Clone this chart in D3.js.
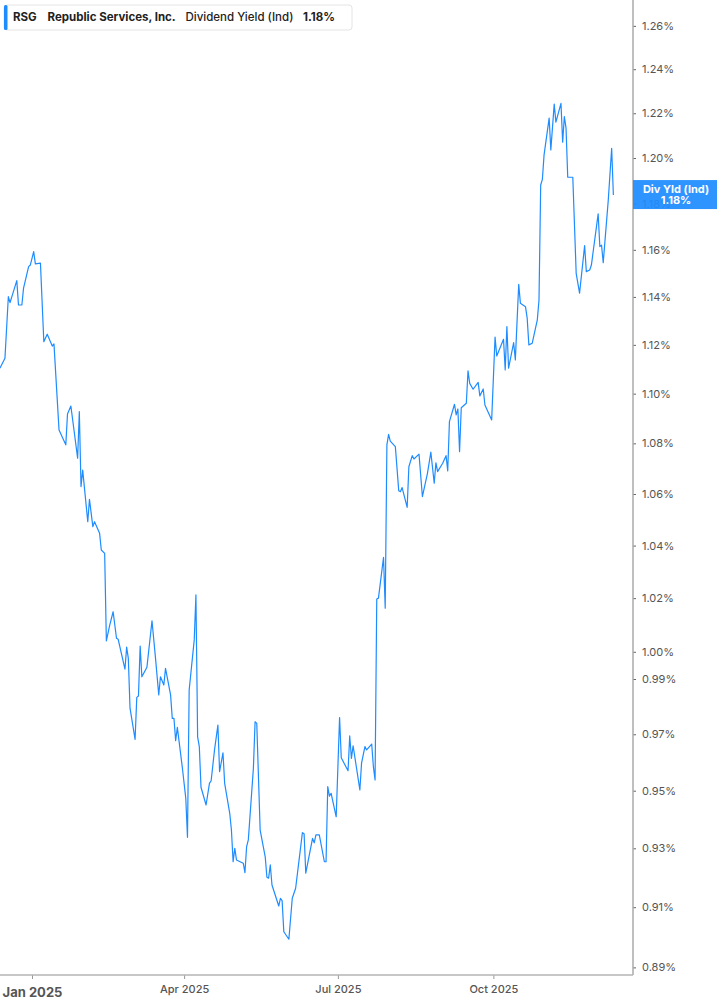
<!DOCTYPE html>
<html>
<head>
<meta charset="utf-8">
<script src="https://cdn.jsdelivr.net/npm/d3@7"></script>
<style>
  body { margin: 0; background: #fff; }
  svg text { font-family: Inter, "Noto Sans", sans-serif; }
</style>
</head>
<body>
<div id="chart"></div>
<script>
// RSG dividend yield (%)
var dates = [
  "2024-12-13","2024-12-16","2024-12-18","2024-12-19","2024-12-23","2024-12-24","2024-12-26","2024-12-27","2024-12-30","2024-12-31",
  "2025-01-02","2025-01-03","2025-01-06","2025-01-08","2025-01-10","2025-01-13","2025-01-14","2025-01-17","2025-01-21","2025-01-22","2025-01-24","2025-01-28","2025-01-29","2025-01-30","2025-01-31",
  "2025-02-03","2025-02-04","2025-02-06","2025-02-07","2025-02-10","2025-02-11","2025-02-13","2025-02-14","2025-02-16","2025-02-18","2025-02-20","2025-02-21","2025-02-25","2025-02-26","2025-02-27","2025-02-28",
  "2025-03-03","2025-03-04","2025-03-05","2025-03-06","2025-03-07","2025-03-10","2025-03-13","2025-03-15","2025-03-17","2025-03-18","2025-03-20","2025-03-21","2025-03-24","2025-03-25","2025-03-26","2025-03-27","2025-03-28","2025-03-31",
  "2025-04-02","2025-04-03","2025-04-04","2025-04-07","2025-04-08","2025-04-09","2025-04-10","2025-04-11","2025-04-14","2025-04-16","2025-04-17","2025-04-19","2025-04-21","2025-04-22","2025-04-24","2025-04-25","2025-04-28","2025-04-29","2025-04-30",
  "2025-05-01","2025-05-02","2025-05-06","2025-05-07","2025-05-08","2025-05-09","2025-05-12","2025-05-13","2025-05-14","2025-05-16","2025-05-19","2025-05-20","2025-05-21","2025-05-22","2025-05-23","2025-05-27","2025-05-28","2025-05-29","2025-05-30",
  "2025-06-02","2025-06-04","2025-06-06","2025-06-10","2025-06-11","2025-06-12","2025-06-16","2025-06-17","2025-06-18","2025-06-20","2025-06-23","2025-06-24","2025-06-25","2025-06-26","2025-06-27","2025-06-30",
  "2025-07-02","2025-07-03","2025-07-07","2025-07-08","2025-07-09","2025-07-10","2025-07-14","2025-07-15","2025-07-17","2025-07-18","2025-07-21","2025-07-22","2025-07-23","2025-07-24","2025-07-25","2025-07-28","2025-07-29","2025-07-30","2025-07-31",
  "2025-08-01","2025-08-04","2025-08-06","2025-08-07","2025-08-08","2025-08-11","2025-08-12","2025-08-14","2025-08-15","2025-08-18","2025-08-20","2025-08-23","2025-08-25","2025-08-27","2025-08-28","2025-08-29",
  "2025-09-01","2025-09-03","2025-09-04","2025-09-05","2025-09-08","2025-09-09","2025-09-10","2025-09-11","2025-09-12","2025-09-15","2025-09-16","2025-09-17","2025-09-19","2025-09-22","2025-09-23","2025-09-25","2025-09-26","2025-09-30",
  "2025-10-02","2025-10-03","2025-10-07","2025-10-08","2025-10-09","2025-10-10","2025-10-13","2025-10-14","2025-10-16","2025-10-17","2025-10-20","2025-10-21","2025-10-22","2025-10-24","2025-10-27","2025-10-28","2025-10-29","2025-10-30","2025-10-31",
  "2025-11-03","2025-11-04","2025-11-06","2025-11-07","2025-11-10","2025-11-11","2025-11-12","2025-11-13","2025-11-14","2025-11-17","2025-11-19","2025-11-21","2025-11-24","2025-11-25","2025-11-27","2025-11-28",
  "2025-12-02","2025-12-03","2025-12-04","2025-12-05","2025-12-08","2025-12-10","2025-12-11"
];

var yields = [
  1.1104, 1.1145, 1.1401, 1.1376, 1.1469, 1.1366, 1.1366, 1.1437, 1.1528, 1.1535,
  1.1592, 1.1540, 1.1543, 1.1213, 1.1244, 1.1195, 1.1204, 1.0853, 1.0794, 1.0918, 1.0950, 1.0741, 1.0927, 1.0629, 1.0694,
  1.0492, 1.0579, 1.0473, 1.0492, 1.0447, 1.0383, 1.0370, 1.0040, 1.0099, 1.0149, 1.0050, 1.0046, 0.9936, 1.0017, 0.9976, 0.9794,
  0.9682, 0.9833, 0.9838, 1.0021, 0.9908, 0.9943, 1.0115, 0.9982, 0.9842, 0.9908, 0.9878, 0.9939, 0.9842, 0.9757, 0.9757, 0.9677, 0.9725, 0.9579,
  0.9473, 0.9338, 0.9860, 1.0044, 1.0212, 0.9691, 0.9656, 0.9512, 0.9450, 0.9526, 0.9535, 0.9644, 0.9733, 0.9567, 0.9634, 0.9526, 0.9421, 0.9363, 0.9254,
  0.9300, 0.9260, 0.9249, 0.9217, 0.9306, 0.9329, 0.9579, 0.9745, 0.9739, 0.9363, 0.9271, 0.9201, 0.9198, 0.9243, 0.9175, 0.9104, 0.9130, 0.9122, 0.9018,
  0.8993, 0.9130, 0.9164, 0.9354, 0.9350, 0.9215, 0.9334, 0.9319, 0.9346, 0.9346, 0.9254, 0.9254, 0.9514, 0.9481, 0.9491, 0.9409,
  0.9760, 0.9616, 0.9570, 0.9694, 0.9614, 0.9659, 0.9503, 0.9597, 0.9656, 0.9644, 0.9665, 0.9585, 0.9538, 1.0197, 1.0200, 1.0355, 1.0162, 1.0794, 1.0836,
  1.0809, 1.0787, 1.0613, 1.0609, 1.0625, 1.0548, 1.0707, 1.0751, 1.0738, 1.0757, 1.0590, 1.0681, 1.0765, 1.0642, 1.0723, 1.0688,
  1.0721, 1.0751, 1.0691, 1.0887, 1.0957, 1.0914, 1.0938, 1.0767, 1.0943, 1.0961, 1.1093, 1.1042, 1.1018, 1.1046, 1.0991, 1.1019, 1.0954, 1.0894,
  1.1232, 1.1154, 1.1223, 1.1097, 1.1276, 1.1104, 1.1209, 1.1138, 1.1453, 1.1373, 1.1359, 1.1311, 1.1200, 1.1207, 1.1304, 1.1387, 1.1881, 1.1906, 1.2014,
  1.2178, 1.2036, 1.2241, 1.2160, 1.2245, 1.2070, 1.2185, 1.2133, 1.1915, 1.1915, 1.1500, 1.1416, 1.1618, 1.1507, 1.1514, 1.1535,
  1.1755, 1.1614, 1.1620, 1.1545, 1.1816, 1.2043, 1.1837
];

var yTicks = [1.26, 1.24, 1.22, 1.20, 1.18, 1.16, 1.14, 1.12, 1.10, 1.08, 1.06, 1.04, 1.02, 1.00, 0.99, 0.97, 0.95, 0.93, 0.91, 0.89];
var xTicks = ["2025-01-01", "2025-04-01", "2025-07-01", "2025-10-01"];
var xTickLabels = ["Jan 2025", "Apr 2025", "Jul 2025", "Oct 2025"];

var ticker = "RSG",
    company = "Republic Services, Inc.",
    metric = "Dividend Yield (Ind)",
    badgeName = "Div Yld (Ind)";

(function() {
  var width = 717,
      height = 1005,
      plotW = 633,
      plotH = 975;

  var blue = "#1e8cff";
  var parse = d3.timeParse("%Y-%m-%d");

  var data = dates.map(function(d, i) {
    return { date: parse(d), value: yields[i] };
  });
  var last = data[data.length - 1];

  var svg = d3.select("#chart")
    .append("svg")
    .attr("width", width)
    .attr("height", height);

  // time scale: Jan 1 sits at x=32, roughly 1.69px per day
  var x = d3.scaleTime()
    .domain([parse(xTicks[0]), parse(xTicks[3])])
    .range([32, 32 + 273 * 1.69]);
  x.domain([x.invert(0), x.invert(plotW)]).range([0, plotW]);

  // log scale for the yield axis
  var y = d3.scaleLog()
    .domain([0.8875, 1.2721])
    .range([plotH, 0]);

  svg.append("defs").append("clipPath")
    .attr("id", "clip")
    .append("rect")
    .attr("width", plotW)
    .attr("height", plotH);

  var line = d3.line()
    .x(function(d) { return x(d.date); })
    .y(function(d) { return y(d.value); });

  svg.append("path")
    .datum(data)
    .attr("clip-path", "url(#clip)")
    .attr("fill", "none")
    .attr("stroke", blue)
    .attr("stroke-width", 1.2)
    .attr("stroke-linejoin", "round")
    .attr("d", line);

  // right axis
  var yAxis = svg.append("g")
    .attr("transform", "translate(" + plotW + ",0)")
    .call(d3.axisRight(y)
      .tickValues(yTicks)
      .tickSize(3)
      .tickPadding(6)
      .tickFormat(function(d) { return d3.format(".2f")(d) + "%"; }));
  yAxis.select(".domain").remove();
  yAxis.selectAll(".tick line").attr("stroke", "#666");
  yAxis.selectAll(".tick text")
    .attr("fill", "#555")
    .style("font-size", "11px");

  // bottom axis
  var xAxis = svg.append("g")
    .attr("transform", "translate(0," + plotH + ")")
    .call(d3.axisBottom(x)
      .tickValues(xTicks.map(parse))
      .tickSize(4)
      .tickPadding(6)
      .tickFormat(function(d, i) { return xTickLabels[i]; }));
  xAxis.select(".domain").remove();
  xAxis.selectAll(".tick line").attr("stroke", "#999");
  xAxis.selectAll(".tick text")
    .attr("fill", "#555")
    .style("font-size", "11px")
    .style("font-weight", 500);
  xAxis.select(".tick text")
    .style("font-size", "13px")
    .style("font-weight", 700)
    .attr("dy", "0.95em");

  // frame lines
  svg.append("line")
    .attr("x1", plotW).attr("x2", plotW)
    .attr("y1", 0).attr("y2", plotH)
    .attr("stroke", "#aaa").attr("stroke-width", 1.5);
  svg.append("line")
    .attr("x1", 0).attr("x2", plotW)
    .attr("y1", plotH).attr("y2", plotH)
    .attr("stroke", "#b5b5b5").attr("stroke-width", 1.5);

  // last-value badge (the 1.18% tick shows faintly through it, as in the source)
  var by = y(last.value);
  var badge = svg.append("g").attr("transform", "translate(" + plotW + "," + (by - 15) + ")");
  badge.append("rect")
    .attr("width", width - plotW)
    .attr("height", 29)
    .attr("fill", blue)
    .attr("opacity", 0.93);
  badge.append("text")
    .attr("x", (width - plotW) / 2 + 1)
    .attr("y", 12.5)
    .attr("text-anchor", "middle")
    .attr("fill", "#fff")
    .style("font-size", "11px")
    .style("font-weight", 700)
    .text(badgeName);
  badge.append("text")
    .attr("x", (width - plotW) / 2 + 1)
    .attr("y", 24)
    .attr("text-anchor", "middle")
    .attr("fill", "#fff")
    .style("font-size", "11px")
    .style("font-weight", 700)
    .text(d3.format(".2f")(last.value) + "%");

  // legend header
  var head = svg.append("g").attr("transform", "translate(4,5)");
  head.append("rect")
    .attr("width", 348)
    .attr("height", 25)
    .attr("rx", 3)
    .attr("fill", "#fff")
    .attr("stroke", "#e4e4e4");
  head.append("rect")
    .attr("width", 3.5)
    .attr("height", 25)
    .attr("rx", 1.5)
    .attr("fill", blue);

  var parts = [
    { t: ticker, x: 9, w: 700 },
    { t: company, x: 43.5, w: 700 },
    { t: metric, x: 181.5, w: 500 },
    { t: d3.format(".2f")(last.value) + "%", x: 299, w: 700 }
  ];
  head.selectAll(".part")
    .data(parts)
    .enter().append("text")
    .attr("class", "part")
    .attr("x", function(d) { return d.x; })
    .attr("y", 16.3)
    .attr("fill", "#222")
    .style("font-size", "11.5px")
    .style("font-weight", function(d) { return d.w; })
    .text(function(d) { return d.t; });
})();
</script>
</body>
</html>
